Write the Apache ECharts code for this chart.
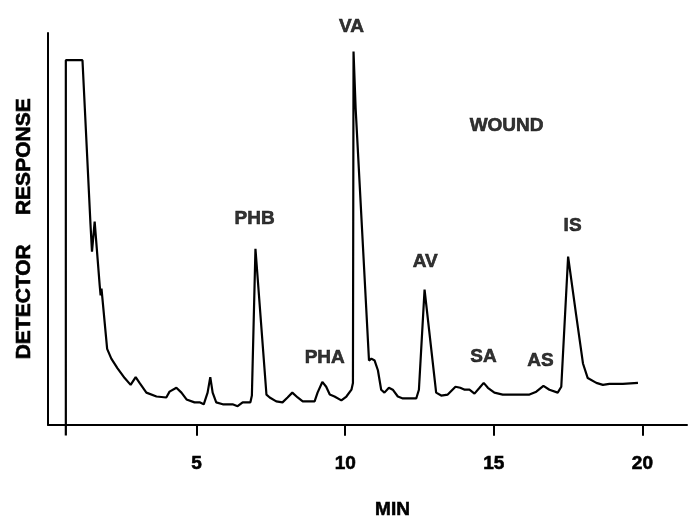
<!DOCTYPE html>
<html>
<head>
<meta charset="utf-8">
<script src="https://cdn.jsdelivr.net/npm/echarts@6/dist/echarts.min.js"></script>
<style>
html,body{margin:0;padding:0;background:#fff;}
#chart{width:689px;height:525px;}
</style>
</head>
<body>
<div id="chart"></div>
<script>
// Retention time (min) and detector response (arbitrary units)
const times = [0.6, 0.6, 1.16, 1.43, 1.48, 1.57, 1.74, 1.77, 1.80, 1.99, 2.13, 2.34, 2.58, 2.78, 2.95, 3.08, 3.31, 3.65, 3.98, 4.09, 4.32, 4.49, 4.66, 4.93, 5.10, 5.24, 5.37, 5.46, 5.54, 5.66, 5.88, 6.21, 6.38, 6.55, 6.81, 6.86, 6.98, 7.35, 7.46, 7.68, 7.89, 8.06, 8.22, 8.40, 8.57, 8.97, 9.07, 9.23, 9.36, 9.48, 9.64, 9.87, 10.04, 10.21, 10.26, 10.28, 10.35, 10.80, 10.88, 10.99, 11.10, 11.21, 11.32, 11.47, 11.60, 11.77, 11.94, 12.39, 12.48, 12.67, 13.06, 13.23, 13.45, 13.71, 13.87, 14.02, 14.18, 14.35, 14.52, 14.66, 14.80, 15.02, 15.30, 16.20, 16.43, 16.67, 16.87, 17.15, 17.27, 17.50, 17.77, 18.00, 18.16, 18.45, 18.67, 18.89, 19.34, 19.85];
const response = [-11, 375, 375, 206, 178, 209, 143, 133, 140, 78, 68, 58, 48, 41, 49, 43, 33, 29, 28, 34, 38, 33, 26, 23, 23, 21, 33, 49, 33, 23, 21, 21, 19, 23, 23, 30, 181, 31, 28, 24, 23, 28, 33, 28, 24, 24, 33, 44, 39, 31, 29, 25, 29, 36, 43, 384, 326, 66, 68, 66, 56, 36, 33, 38, 36, 29, 27, 27, 36, 139, 33, 30, 31, 39, 38, 36, 36, 32, 38, 43, 38, 33, 31, 31, 34, 40, 36, 33, 39, 173, 113, 63, 48, 43, 41, 42, 42, 43];

// Peak annotations
const peakNames = ['PHB', 'PHA', 'VA', 'AV', 'SA', 'AS', 'IS', 'WOUND'];
const peakLabelTimes = [6.95, 9.31, 10.21, 12.69, 14.65, 16.57, 17.65, 15.43];
const peakLabelLevels = [215, 72, 412, 171, 73, 69, 208, 311];

// Axis ticks
const xTickValues = [5, 10, 15, 20];

const FONT = 'Liberation Sans';
const boldText = {color: '#000', fontFamily: FONT, fontWeight: 'bold', textBorderColor: '#000', textBorderWidth: 0.6};
const seriesData = times.map((t, i) => [t, response[i]]);
const labelData = peakNames.map((n, i) => [peakLabelTimes[i], peakLabelLevels[i], n]);

const chart = echarts.init(document.getElementById('chart'), null, {renderer: 'canvas'});
chart.setOption({
  animation: false,
  backgroundColor: '#fff',
  grid: {left: 48, right: 2, top: 33, bottom: 89, containLabel: false},
  xAxis: {
    type: 'value', min: 0, max: 21.5,
    splitLine: {show: false},
    axisLine: {show: true, onZero: false, lineStyle: {color: '#000', width: 2}},
    axisTick: {show: true, customValues: xTickValues, length: 11, lineStyle: {color: '#000', width: 2}},
    axisLabel: Object.assign({show: true, customValues: xTickValues, margin: 30, fontSize: 19}, boldText),
    name: 'MIN', nameLocation: 'middle', nameGap: 76,
    nameTextStyle: Object.assign({fontSize: 19, padding: [0, 0, 0, 50]}, boldText)
  },
  yAxis: {
    type: 'value', min: 0, max: 403,
    splitLine: {show: false},
    axisLine: {show: true, lineStyle: {color: '#000', width: 2}},
    axisTick: {show: false},
    axisLabel: {show: false},
    name: 'DETECTOR     RESPONSE', nameLocation: 'middle', nameGap: 13, nameRotate: 90,
    nameTextStyle: Object.assign({fontSize: 21}, boldText)
  },
  series: [
    {
      type: 'line', data: seriesData, showSymbol: false, symbol: 'none', clip: false,
      lineStyle: {color: '#000', width: 2.2}, silent: true
    },
    {
      type: 'scatter', data: labelData, symbolSize: 0, clip: false, silent: true,
      label: Object.assign({show: true, position: 'inside', offset: [0, 3], formatter: p => p.data[2], fontSize: 19}, boldText)
    }
  ]
});
</script>
</body>
</html>
